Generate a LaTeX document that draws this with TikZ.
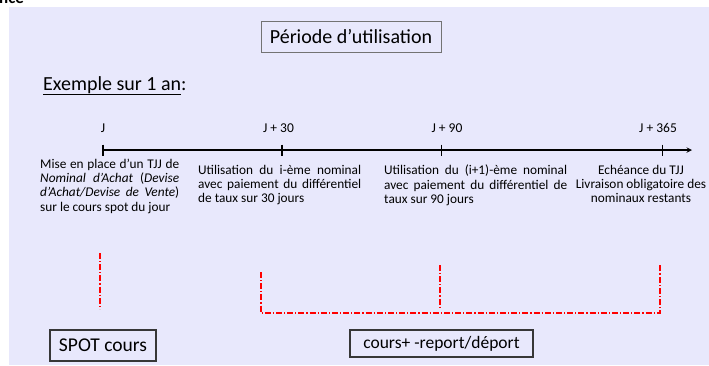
\documentclass[tikz,border=0pt]{standalone}
\usepackage{fontspec}
\setmainfont{Carlito}
\usetikzlibrary{positioning}

\begin{document}
\begin{tikzpicture}[x=1pt,y=-1pt]

% definiciones

% colores
\definecolor{fondo}{RGB}{232,232,252}
\definecolor{borde}{RGB}{55,55,55}

% estilos de linea, caja y texto
\tikzstyle{eje}    = [line width=1.4pt,-stealth]
\tikzstyle{rojo}   = [red,line width=1.2pt,dash pattern=on 6pt off 2pt on 1.2pt off 2pt]
\tikzstyle{caja}   = [draw=borde,line width=1.1pt,inner sep=0pt]
\tikzstyle{fecha}  = [font=\fontsize{13.5}{15}\selectfont,inner sep=0pt]
\tikzstyle{texto}  = [font=\fontsize{13.3}{14.2}\selectfont,inner sep=0pt,anchor=north west,align=justify]

% marca sobre el eje
% #1: nombre de la marca
% #2: abscisa de la marca
% #3: abscisa del rotulo
% #4: rotulo de la marca
\newcommand{\marca}[4]{
	\coordinate (#1) at (#2,150);
	\draw [line width=1.4pt] (#2,144.5) -- (#2,155.5);
	\node [fecha] (#1t) at (#3,128) {#4};
}

% fondo y marco de la figura
\useasboundingbox (0,0) rectangle (709,365);
\fill [fondo] (9,7) rectangle (709,365);
\node [font=\fontsize{17}{17}\selectfont\bfseries,anchor=base west,inner sep=0pt] (tope) at (-1,3.5) {nce};

% titulos
\node [draw=borde!70,line width=0.7pt,minimum width=180pt,minimum height=31pt,
       font=\fontsize{20}{22}\selectfont,inner sep=0pt] (titulo) at (351,36.5) {Période d’utilisation};
\node [font=\fontsize{20}{22}\selectfont,anchor=base west,inner sep=0pt] (ejemplo) at (43,90) {\underline{Exemple sur 1 an}:};

% eje de tiempo
\marca{j0}{103}{103}{J}
\marca{j30}{282}{278.5}{J + 30}
\marca{j90}{441.5}{447}{J + 90}
\marca{j365}{662.5}{658}{J + 365}
\coordinate (fin) at (692,150);
\draw [eje] (j0) -- (fin);

% textos bajo el eje
\node [texto,text width=139pt] (bloque1) at (40,159)
	{Mise en place d’un TJJ de\linebreak \emph{Nominal d’Achat} (\emph{Devise}\linebreak \emph{d’Achat/Devise de Vente})\linebreak sur le cours spot du jour};
\node [texto,text width=163pt] (bloque2) at (198,165)
	{Utilisation du i-ème nominal\linebreak avec paiement du différentiel\linebreak de taux sur 30 jours};
\node [texto,text width=183pt] (bloque3) at (384,165)
	{Utilisation du (i+1)-ème nominal\linebreak avec paiement du différentiel de\linebreak taux sur 90 jours};
\node [texto,anchor=north,align=center] (bloque4) at (641,165)
	{Echéance du TJJ\\ Livraison obligatoire des\\ nominaux restants};

% lineas rojas
\coordinate (s1) at (100,253);
\coordinate (s2) at (100,309);
\draw [rojo] (s1) -- (s2);
\coordinate (a1) at (261,272);
\coordinate (a2) at (261,313);
\coordinate (a3) at (660,313);
\coordinate (a4) at (660,265);
\draw [rojo] (a1) -- (a2) -- (a3) -- (a4);
\coordinate (m1) at (440,265);
\coordinate (m2) at (440,307);
\draw [rojo] (m1) -- (m2);

% cajas de cotizacion
\node [caja,minimum width=106pt,minimum height=31pt,font=\fontsize{19.5}{21}\selectfont] (spot) at (103,345.5) {SPOT cours};
\node [caja,minimum width=183pt,minimum height=27pt,font=\fontsize{17.5}{19}\selectfont] (cours) at (441.5,343.5) {cours+ -report/déport};

\end{tikzpicture}
\end{document}
